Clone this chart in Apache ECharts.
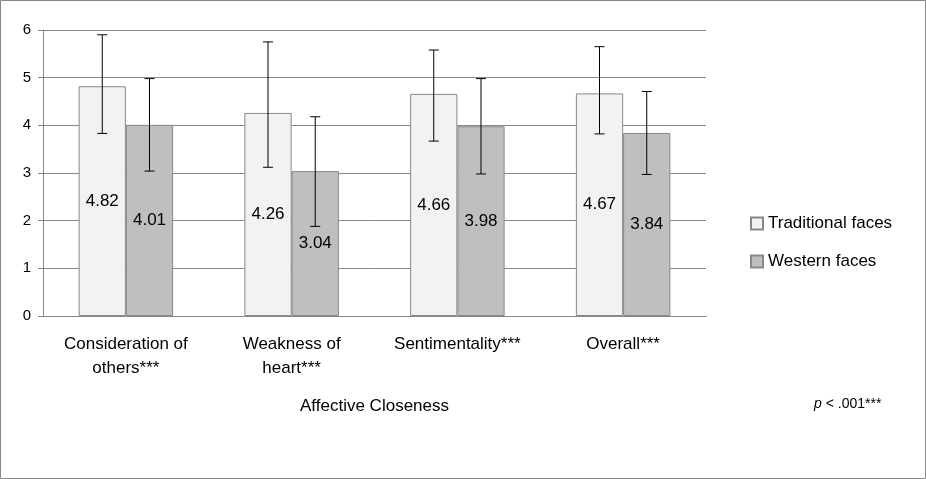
<!DOCTYPE html>
<html>
<head>
<meta charset="utf-8">
<script src="https://cdn.jsdelivr.net/npm/echarts@6/dist/echarts.min.js"></script>
<style>
  html, body { margin: 0; padding: 0; background: #fff; }
  #chart { width: 926px; height: 479px; }
</style>
</head>
<body>
<div id="chart"></div>
<script>
const categories = ['Consideration of\nothers***', 'Weakness of\nheart***', 'Sentimentality***', 'Overall***']
const traditional = [4.82, 4.26, 4.66, 4.67]
const western = [4.01, 3.04, 3.98, 3.84]
// error bar ranges [low, high]
const traditionalErr = [[3.83, 5.9], [3.12, 5.75], [3.67, 5.58], [3.82, 5.65]]
const westernErr = [[3.04, 4.98], [1.88, 4.18], [2.98, 4.98], [2.97, 4.71]]
const yTicks = { min: 0, max: 6, interval: 1 }

const font = 'Liberation Sans'
const gapRatio = 0.43

function errorSeries(name, ranges, side) {
  return {
    name: name + ' err',
    type: 'custom',
    z: 10,
    data: ranges.map((r, i) => [i, r[0], r[1]]),
    renderItem(params, api) {
      const band = api.size([1, 0])[0]
      const barW = band * (1 - gapRatio) / 2
      const lo = api.coord([api.value(0), api.value(1)])
      const hi = api.coord([api.value(0), api.value(2)])
      const x = lo[0] + side * barW / 2
      const cap = 5
      const style = { stroke: '#000', lineWidth: 1 }
      return {
        type: 'group',
        children: [
          { type: 'line', shape: { x1: x, y1: lo[1], x2: x, y2: hi[1] }, style },
          { type: 'line', shape: { x1: x - cap, y1: lo[1], x2: x + cap, y2: lo[1] }, style },
          { type: 'line', shape: { x1: x - cap, y1: hi[1], x2: x + cap, y2: hi[1] }, style }
        ]
      }
    }
  }
}

const chart = echarts.init(document.getElementById('chart'))
chart.setOption({
  animation: false,
  textStyle: { fontFamily: font },
  grid: { left: 43, right: 220, top: 30, bottom: 163 },
  legend: {
    orient: 'vertical',
    left: 745,
    top: 210,
    icon: 'rect',
    itemWidth: 12,
    itemHeight: 12,
    itemGap: 21,
    textStyle: { fontSize: 17, color: '#000', fontFamily: font },
    data: ['Traditional faces', 'Western faces']
  },
  xAxis: {
    type: 'category',
    data: categories,
    name: 'Affective Closeness',
    nameLocation: 'middle',
    nameGap: 82,
    nameTextStyle: { fontSize: 17, color: '#000' },
    axisLine: { lineStyle: { color: '#888' } },
    axisTick: { show: false },
    axisLabel: { fontSize: 17, color: '#000', lineHeight: 24, margin: 16 }
  },
  yAxis: {
    type: 'value',
    min: yTicks.min,
    max: yTicks.max,
    interval: yTicks.interval,
    axisLine: { show: true, lineStyle: { color: '#888' } },
    axisTick: { show: true, lineStyle: { color: '#888' } },
    axisLabel: { fontSize: 15, color: '#000', margin: 12 },
    splitLine: { lineStyle: { color: '#888' } }
  },
  graphic: [
    {
      type: 'rect',
      shape: { x: 0.5, y: 0.5, width: 925, height: 478 },
      style: { fill: 'none', stroke: '#888', lineWidth: 1 }
    },
    {
      type: 'text',
      left: 814,
      top: 397,
      style: {
        text: '{i|p} < .001***',
        rich: { i: { fontStyle: 'italic', fontSize: 14, fontFamily: font } },
        fontSize: 14,
        fontFamily: font,
        fill: '#000'
      }
    }
  ],
  series: [
    {
      name: 'Traditional faces',
      type: 'bar',
      data: traditional,
      barGap: '0%',
      barCategoryGap: '43%',
      itemStyle: { color: '#f2f2f2', borderColor: '#888', borderWidth: 1 },
      label: { show: true, position: 'inside', fontSize: 17, color: '#000' }
    },
    {
      name: 'Western faces',
      type: 'bar',
      data: western,
      barGap: '0%',
      barCategoryGap: '43%',
      itemStyle: { color: '#bfbfbf', borderColor: '#888', borderWidth: 1 },
      label: { show: true, position: 'inside', fontSize: 17, color: '#000' }
    },
    errorSeries('Traditional faces', traditionalErr, -1),
    errorSeries('Western faces', westernErr, 1)
  ]
})
</script>
</body>
</html>
